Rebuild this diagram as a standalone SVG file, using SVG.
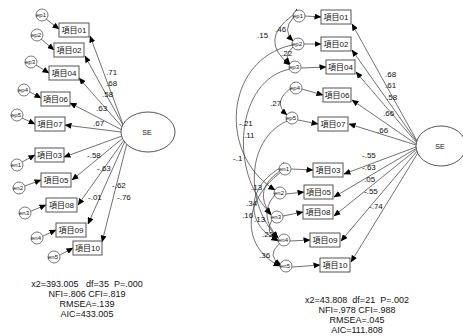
<svg xmlns="http://www.w3.org/2000/svg" width="463" height="336" viewBox="0 0 463 336">
<style>
.bx{fill:#fff;stroke:#555;stroke-width:1}
.bt{font-family:"Liberation Sans","Noto Sans CJK JP",sans-serif;font-size:8px;fill:#111;text-anchor:middle}
.ec{fill:#fff;stroke:#555;stroke-width:0.8}
.et{font-family:"Liberation Sans",sans-serif;font-size:6px;fill:#111;text-anchor:middle}
.ln{fill:none;stroke:#333;stroke-width:0.7}
.lb{font-family:"Liberation Sans",sans-serif;font-size:8px;fill:#111}
.st{font-family:"Liberation Sans",sans-serif;font-size:9px;fill:#111;text-anchor:middle;white-space:pre}
.se{fill:#fff;stroke:#555;stroke-width:1}
</style>
<defs>
<marker id="ah" markerWidth="7" markerHeight="6" refX="6.5" refY="3" orient="auto" markerUnits="userSpaceOnUse"><path d="M0,0 L7,3 L0,6 Z" fill="#000"/></marker>
</defs>

<g id="connectors">
<line class="ln" x1="46" y1="19" x2="59" y2="29" marker-end="url(#ah)"/>
<line class="ln" x1="41" y1="39" x2="54" y2="50" marker-end="url(#ah)"/>
<line class="ln" x1="36" y1="65" x2="49" y2="73" marker-end="url(#ah)"/>
<line class="ln" x1="30" y1="92" x2="41" y2="98" marker-end="url(#ah)"/>
<line class="ln" x1="22" y1="118" x2="35" y2="124" marker-end="url(#ah)"/>
<line class="ln" x1="22" y1="162" x2="35" y2="155" marker-end="url(#ah)"/>
<line class="ln" x1="25" y1="186" x2="41" y2="180" marker-end="url(#ah)"/>
<line class="ln" x1="31" y1="211" x2="46" y2="205" marker-end="url(#ah)"/>
<line class="ln" x1="43" y1="236" x2="56" y2="230" marker-end="url(#ah)"/>
<line class="ln" x1="60" y1="255" x2="73" y2="248" marker-end="url(#ah)"/>
<line class="ln" x1="124" y1="127" x2="90" y2="36" marker-end="url(#ah)"/>
<line class="ln" x1="124" y1="127" x2="85" y2="56" marker-end="url(#ah)"/>
<line class="ln" x1="123" y1="128" x2="79" y2="78" marker-end="url(#ah)"/>
<line class="ln" x1="122" y1="130" x2="70" y2="103" marker-end="url(#ah)"/>
<line class="ln" x1="121" y1="132" x2="65" y2="125" marker-end="url(#ah)"/>
<line class="ln" x1="122" y1="136" x2="64" y2="157" marker-end="url(#ah)"/>
<line class="ln" x1="123" y1="138" x2="72" y2="180" marker-end="url(#ah)"/>
<line class="ln" x1="124" y1="140" x2="78" y2="205" marker-end="url(#ah)"/>
<line class="ln" x1="125" y1="141" x2="88" y2="224" marker-end="url(#ah)"/>
<line class="ln" x1="127" y1="143" x2="102" y2="242" marker-end="url(#ah)"/>

<line class="ln" x1="305" y1="16" x2="321" y2="17" marker-end="url(#ah)"/>
<line class="ln" x1="304" y1="44" x2="321" y2="44" marker-end="url(#ah)"/>
<line class="ln" x1="301" y1="68" x2="326" y2="67" marker-end="url(#ah)"/>
<line class="ln" x1="302" y1="89" x2="323" y2="95" marker-end="url(#ah)"/>
<line class="ln" x1="298" y1="120" x2="318" y2="124" marker-end="url(#ah)"/>
<line class="ln" x1="291" y1="169" x2="313" y2="170" marker-end="url(#ah)"/>
<line class="ln" x1="286" y1="194" x2="304" y2="192" marker-end="url(#ah)"/>
<line class="ln" x1="283" y1="216" x2="303" y2="212" marker-end="url(#ah)"/>
<line class="ln" x1="290" y1="241" x2="310" y2="240" marker-end="url(#ah)"/>
<line class="ln" x1="292" y1="267" x2="320" y2="265" marker-end="url(#ah)"/>
<line class="ln" x1="417" y1="141" x2="352" y2="24" marker-end="url(#ah)"/>
<line class="ln" x1="417" y1="142" x2="352" y2="50" marker-end="url(#ah)"/>
<line class="ln" x1="417" y1="143" x2="356" y2="72" marker-end="url(#ah)"/>
<line class="ln" x1="416" y1="144" x2="352" y2="100" marker-end="url(#ah)"/>
<line class="ln" x1="416" y1="145" x2="349" y2="124" marker-end="url(#ah)"/>
<line class="ln" x1="416" y1="147" x2="344" y2="174" marker-end="url(#ah)"/>
<line class="ln" x1="417" y1="148" x2="334" y2="197" marker-end="url(#ah)"/>
<line class="ln" x1="417" y1="149" x2="334" y2="216" marker-end="url(#ah)"/>
<line class="ln" x1="418" y1="150" x2="341" y2="241" marker-end="url(#ah)"/>
<line class="ln" x1="419" y1="151" x2="351" y2="262" marker-end="url(#ah)"/>
<path class="ln" d="M293,18 Q282,30 293,41" marker-start="url(#ah)" marker-end="url(#ah)"/>
<path class="ln" d="M293,15 Q258,40 290,65" marker-start="url(#ah)" marker-end="url(#ah)"/>
<path class="ln" d="M293,47 Q283,56 290,64" marker-start="url(#ah)" marker-end="url(#ah)"/>
<path class="ln" d="M291,88 Q272,102 287,115" marker-start="url(#ah)" marker-end="url(#ah)"/>
<path class="ln" d="M292,45 C224,60 218,155 275,190" marker-start="url(#ah)" marker-end="url(#ah)"/>
<path class="ln" d="M290,69 C236,80 228,172 271,214" marker-start="url(#ah)" marker-end="url(#ah)"/>
<path class="ln" d="M287,121 C245,140 245,205 278,238" marker-start="url(#ah)" marker-end="url(#ah)"/>
<path class="ln" d="M280,171 Q252,190 271,215" marker-start="url(#ah)" marker-end="url(#ah)"/>
<path class="ln" d="M280,168 C243,190 248,228 278,240" marker-start="url(#ah)" marker-end="url(#ah)"/>
<path class="ln" d="M281,172 C238,205 245,250 280,266" marker-start="url(#ah)" marker-end="url(#ah)"/>
<path class="ln" d="M274,196 Q258,215 278,238" marker-start="url(#ah)" marker-end="url(#ah)"/>
<path class="ln" d="M272,220 Q264,232 278,241" marker-start="url(#ah)" marker-end="url(#ah)"/>
<path class="ln" d="M279,244 Q266,256 281,265" marker-start="url(#ah)" marker-end="url(#ah)"/>
</g>

<g id="left-labels">
<text class="lb" x="106" y="75">.71</text>
<text class="lb" x="106" y="86">.68</text>
<text class="lb" x="102" y="97">.58</text>
<text class="lb" x="96" y="111">.63</text>
<text class="lb" x="93" y="126">.67</text>
<text class="lb" x="87" y="158">-.58</text>
<text class="lb" x="97" y="171">-.63</text>
<text class="lb" x="88" y="200">-.01</text>
<text class="lb" x="112" y="188">-.62</text>
<text class="lb" x="117" y="200">-.76</text>
</g>

<g id="left-SE"><ellipse class="se" cx="148" cy="132" rx="27" ry="20"/><text class="et" x="147" y="135" style="font-size:7px">SE</text></g>
<g id="L01"><rect class="bx" x="59" y="23" width="30" height="14"/><text class="bt" x="74" y="33">項目01</text></g>
<g id="L02"><rect class="bx" x="54" y="43" width="30" height="14"/><text class="bt" x="69" y="53">項目02</text></g>
<g id="L04"><rect class="bx" x="49" y="66" width="30" height="14"/><text class="bt" x="64" y="76">項目04</text></g>
<g id="L06"><rect class="bx" x="41" y="92" width="29" height="14"/><text class="bt" x="55.5" y="102">項目06</text></g>
<g id="L07"><rect class="bx" x="35" y="117" width="30" height="14"/><text class="bt" x="50" y="127">項目07</text></g>
<g id="L03"><rect class="bx" x="35" y="148" width="29" height="14"/><text class="bt" x="49.5" y="158">項目03</text></g>
<g id="L05"><rect class="bx" x="41" y="173" width="30" height="14"/><text class="bt" x="56" y="183">項目05</text></g>
<g id="L08"><rect class="bx" x="46" y="198" width="31" height="14"/><text class="bt" x="61.5" y="208">項目08</text></g>
<g id="L09"><rect class="bx" x="56" y="223" width="30" height="14"/><text class="bt" x="71" y="233">項目09</text></g>
<g id="L10"><rect class="bx" x="73" y="241" width="29" height="14"/><text class="bt" x="87.5" y="251">項目10</text></g>
<g id="Lep1"><circle class="ec" cx="42" cy="15" r="6"/><text class="et" x="41" y="17">ep1</text></g>
<g id="Lep2"><circle class="ec" cx="37" cy="35" r="6"/><text class="et" x="36" y="37">ep2</text></g>
<g id="Lep3"><circle class="ec" cx="31" cy="62" r="6"/><text class="et" x="30" y="64">ep3</text></g>
<g id="Lep4"><circle class="ec" cx="24" cy="90" r="6"/><text class="et" x="23" y="92">ep4</text></g>
<g id="Lep5"><circle class="ec" cx="17" cy="115" r="6"/><text class="et" x="16" y="117">ep5</text></g>
<g id="Len1"><circle class="ec" cx="17" cy="165" r="6"/><text class="et" x="16" y="167">en1</text></g>
<g id="Len2"><circle class="ec" cx="19" cy="188" r="6"/><text class="et" x="18" y="190">en2</text></g>
<g id="Len3"><circle class="ec" cx="25" cy="213" r="6"/><text class="et" x="24" y="215">en3</text></g>
<g id="Len4"><circle class="ec" cx="37" cy="238" r="6"/><text class="et" x="36" y="240">en4</text></g>
<g id="Len5"><circle class="ec" cx="54" cy="257" r="6"/><text class="et" x="53" y="259">en5</text></g>

<g id="left-stats">
<text class="st" x="87" y="287">x2=393.005   df=35  P=.000</text>
<text class="st" x="87" y="297">NFI=.806 CFI=.819</text>
<text class="st" x="87" y="307">RMSEA=.139</text>
<text class="st" x="87" y="317">AIC=433.005</text>
</g>

<g id="right-labels">
<text class="lb" x="385" y="77">.68</text>
<text class="lb" x="385" y="88">.61</text>
<text class="lb" x="386" y="100">.58</text>
<text class="lb" x="383" y="116">.66</text>
<text class="lb" x="377" y="133">.66</text>
<text class="lb" x="362" y="158">-.55</text>
<text class="lb" x="362" y="170">-.63</text>
<text class="lb" x="364" y="182">.05</text>
<text class="lb" x="364" y="194">-.55</text>
<text class="lb" x="369" y="209">-.74</text>
<text class="lb" x="275" y="32">.46</text>
<text class="lb" x="257" y="38">.15</text>
<text class="lb" x="281" y="56">.22</text>
<text class="lb" x="270" y="106">.27</text>
<text class="lb" x="239" y="126">-.21</text>
<text class="lb" x="244" y="138">.11</text>
<text class="lb" x="233" y="161">-.1</text>
<text class="lb" x="251" y="190">.13</text>
<text class="lb" x="246" y="206">.34</text>
<text class="lb" x="242" y="218">.16</text>
<text class="lb" x="254" y="222">.13</text>
<text class="lb" x="262" y="237">.22</text>
<text class="lb" x="259" y="258">.36</text>
</g>

<g id="right-SE"><ellipse class="se" cx="441" cy="146" rx="25" ry="20"/><text class="et" x="440" y="149" style="font-size:7px">SE</text></g>
<g id="R01"><rect class="bx" x="321" y="10" width="30" height="14"/><text class="bt" x="336" y="20">項目01</text></g>
<g id="R02"><rect class="bx" x="321" y="37" width="30" height="14"/><text class="bt" x="336" y="47">項目02</text></g>
<g id="R04"><rect class="bx" x="326" y="60" width="29" height="14"/><text class="bt" x="340.5" y="70">項目04</text></g>
<g id="R06"><rect class="bx" x="323" y="88" width="28" height="14"/><text class="bt" x="337" y="98">項目06</text></g>
<g id="R07"><rect class="bx" x="318" y="117" width="30" height="14"/><text class="bt" x="333" y="127">項目07</text></g>
<g id="R03"><rect class="bx" x="313" y="163" width="30" height="14"/><text class="bt" x="328" y="173">項目03</text></g>
<g id="R05"><rect class="bx" x="304" y="185" width="29" height="14"/><text class="bt" x="318.5" y="195">項目05</text></g>
<g id="R08"><rect class="bx" x="303" y="205" width="30" height="14"/><text class="bt" x="318" y="215">項目08</text></g>
<g id="R09"><rect class="bx" x="310" y="233" width="30" height="14"/><text class="bt" x="325" y="243">項目09</text></g>
<g id="R10"><rect class="bx" x="320" y="258" width="30" height="14"/><text class="bt" x="335" y="268">項目10</text></g>
<g id="Rep1"><circle class="ec" cx="299" cy="16" r="6"/><text class="et" x="298" y="18">ep1</text></g>
<g id="Rep2"><circle class="ec" cx="298" cy="44" r="6"/><text class="et" x="297" y="46">ep2</text></g>
<g id="Rep3"><circle class="ec" cx="295" cy="67" r="6"/><text class="et" x="294" y="69">ep3</text></g>
<g id="Rep4"><circle class="ec" cx="296" cy="88" r="6"/><text class="et" x="295" y="90">ep4</text></g>
<g id="Rep5"><circle class="ec" cx="292" cy="118" r="6"/><text class="et" x="291" y="120">ep5</text></g>
<g id="Ren1"><circle class="ec" cx="285" cy="169" r="6"/><text class="et" x="284" y="171">en1</text></g>
<g id="Ren2"><circle class="ec" cx="280" cy="193" r="6"/><text class="et" x="279" y="195">en2</text></g>
<g id="Ren3"><circle class="ec" cx="277" cy="217" r="6"/><text class="et" x="276" y="219">en3</text></g>
<g id="Ren4"><circle class="ec" cx="284" cy="240" r="6"/><text class="et" x="283" y="242">en4</text></g>
<g id="Ren5"><circle class="ec" cx="286" cy="266" r="6"/><text class="et" x="285" y="268">en5</text></g>

<g id="right-stats">
<text class="st" x="357" y="303">x2=43.808  df=21  P=.002</text>
<text class="st" x="357" y="313">NFI=.978 CFI=.988</text>
<text class="st" x="357" y="323">RMSEA=.045</text>
<text class="st" x="357" y="333">AIC=111.808</text>
</g>
</svg>
